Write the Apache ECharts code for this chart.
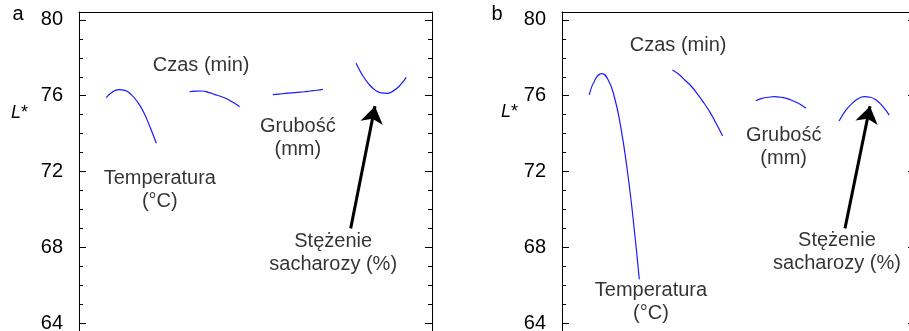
<!DOCTYPE html>
<html>
<head>
<meta charset="utf-8">
<script src="https://cdn.jsdelivr.net/npm/echarts@6/dist/echarts.min.js"></script>
<style>
  html, body { margin: 0; padding: 0; background: #fff; }
  #chart { width: 909px; height: 331px; }
</style>
</head>
<body>
<div id="chart"></div>
<script>
const FONT = '"Liberation Sans", Arial, sans-serif';

// y axis
const yMajor = [64, 68, 72, 76, 80];
const yMinor = [63, 65, 66, 67, 69, 70, 71, 73, 74, 75, 77, 78, 79];
const yMin = 62;
const yMax = 80.42;

// factors, placed side by side along the (hidden) x axis
const factorNames = ['Temperatura\n(°C)', 'Czas (min)', 'Grubość\n(mm)', 'Stężenie\nsacharozy (%)'];
const factorCenter = [14.8, 38.4, 62.0, 85.6];
const halfWidth = 7.1;
const levels = [-1, -0.75, -0.5, -0.25, 0, 0.25, 0.5, 0.75, 1];

// panel a: L* vs coded level
const aTemperatura = [75.90, 76.20, 76.32, 76.28, 76.06, 75.67, 75.12, 74.35, 73.49];
const aCzas = [76.21, 76.24, 76.25, 76.18, 76.07, 75.96, 75.83, 75.64, 75.42];
const aGrubosc = [76.06, 76.09, 76.12, 76.15, 76.18, 76.21, 76.25, 76.29, 76.34];
const aStezenie = [77.71, 77.09, 76.63, 76.31, 76.15, 76.13, 76.27, 76.55, 76.97];

// panel b
const bTemperatura = [76.04, 76.88, 77.17, 76.86, 75.96, 74.42, 72.28, 69.55, 66.31];
const bCzas = [77.36, 77.13, 76.82, 76.50, 76.09, 75.63, 75.12, 74.52, 73.88];
const bGrubosc = [75.74, 75.86, 75.92, 75.95, 75.92, 75.85, 75.72, 75.56, 75.34];
const bStezenie = [74.67, 75.20, 75.57, 75.84, 75.95, 75.92, 75.75, 75.43, 74.98];

// annotation anchors (data coords)
const aLabelX = [22.9, 34.6, 62.0, 72.0];
const aLabelY = [71.05, 77.62, 73.77, 67.72];
const bLabelX = [25.2, 32.9, 62.8, 77.9];
const bLabelY = [65.11, 78.65, 73.32, 67.75];
const aArrow = [[76.97, 69.0], [83.85, 75.45]];
const bArrow = [[80.17, 69.0], [87.25, 75.45]];

function curve(i, vals) {
    return levels.map((t, k) => [factorCenter[i] + t * halfWidth, vals[k]]);
}

function yAxes(grid) {
    const base = {
        gridIndex: grid,
        type: 'value',
        min: yMin,
        max: yMax,
        splitLine: { show: false },
    };
    const line = { show: true, onZero: false, lineStyle: { color: '#000', width: 1 } };
    return [
        {
            ...base,
            position: 'left',
            axisLine: line,
            axisTick: { show: true, inside: true, length: 7, customValues: yMajor, lineStyle: { color: '#000' } },
            axisLabel: {
                show: true,
                customValues: yMajor,
                margin: 16,
                color: '#000',
                fontSize: 20,
                fontFamily: FONT,
            },
        },
        {
            ...base,
            position: 'left',
            axisLine: { show: false, onZero: false },
            axisTick: { show: true, inside: true, length: 4, customValues: yMinor, lineStyle: { color: '#000' } },
            axisLabel: { show: false },
        },
        {
            ...base,
            position: 'right',
            axisLine: line,
            axisTick: { show: true, inside: true, length: 7, customValues: yMajor, lineStyle: { color: '#000' } },
            axisLabel: { show: false },
        },
        {
            ...base,
            position: 'right',
            axisLine: { show: false, onZero: false },
            axisTick: { show: true, inside: true, length: 4, customValues: yMinor, lineStyle: { color: '#000' } },
            axisLabel: { show: false },
        },
    ];
}

function xAxis(grid) {
    return {
        gridIndex: grid,
        type: 'value',
        min: 0,
        max: 100,
        position: 'top',
        axisLine: { show: true, onZero: false, lineStyle: { color: '#000', width: 1 } },
        axisTick: { show: false },
        axisLabel: { show: false },
        splitLine: { show: false },
    };
}

function panelSeries(grid, curves, labelX, labelY, arrow) {
    const yIdx = grid * 4;
    const out = curves.map((data, i) => ({
        type: 'line',
        xAxisIndex: grid,
        yAxisIndex: yIdx,
        data,
        smooth: true,
        showSymbol: false,
        silent: true,
        lineStyle: { color: '#1a1aff', width: 1.2 },
    }));
    out[3].markLine = {
        silent: true,
        symbol: ['none', 'arrow'],
        symbolSize: 17,
        label: { show: false },
        lineStyle: { color: '#000', width: 3, type: 'solid' },
        data: [[{ coord: arrow[0] }, { coord: arrow[1] }]],
    };
    out.push({
        type: 'scatter',
        xAxisIndex: grid,
        yAxisIndex: yIdx,
        symbolSize: 0,
        silent: true,
        data: factorNames.map((name, i) => ({ name, value: [labelX[i], labelY[i]] })),
        label: {
            show: true,
            position: [0, 0],
            align: 'center',
            verticalAlign: 'middle',
            formatter: '{b}',
            color: '#000',
            fontSize: 20,
            lineHeight: 23,
            fontFamily: FONT,
        },
    });
    return out;
}

const aCurves = [curve(0, aTemperatura), curve(1, aCzas), curve(2, aGrubosc), curve(3, aStezenie)];
const bCurves = [curve(0, bTemperatura), curve(1, bCzas), curve(2, bGrubosc), curve(3, bStezenie)];

const chart = echarts.init(document.getElementById('chart'), null, { renderer: 'canvas' });

const option = {
    animation: false,
    backgroundColor: '#fff',
    textStyle: { fontFamily: FONT },
    grid: [
        { left: 79, top: 12, width: 353, height: 349, outerBoundsMode: 'none' },
        { left: 562, top: 12, width: 353, height: 349, outerBoundsMode: 'none' },
    ],
    xAxis: [xAxis(0), xAxis(1)],
    yAxis: [...yAxes(0), ...yAxes(1)],
    graphic: [
        { type: 'text', x: 18, y: 14, style: { text: 'a', font: '20px ' + FONT, fill: '#000', align: 'center', verticalAlign: 'middle' } },
        { type: 'text', x: 497, y: 14, style: { text: 'b', font: '20px ' + FONT, fill: '#000', align: 'center', verticalAlign: 'middle' } },
        {
            type: 'text', x: 11, y: 113,
            style: {
                text: '{i|L}*', fill: '#000', verticalAlign: 'middle',
                font: '18px ' + FONT,
                rich: { i: { fontStyle: 'italic', fontSize: 18, fontFamily: FONT } },
            },
        },
        {
            type: 'text', x: 501, y: 112,
            style: {
                text: '{i|L}*', fill: '#000', verticalAlign: 'middle',
                font: '18px ' + FONT,
                rich: { i: { fontStyle: 'italic', fontSize: 18, fontFamily: FONT } },
            },
        },
    ],
    series: [
        ...panelSeries(0, aCurves, aLabelX, aLabelY, aArrow),
        ...panelSeries(1, bCurves, bLabelX, bLabelY, bArrow),
    ],
};

chart.setOption(option);
</script>
</body>
</html>
